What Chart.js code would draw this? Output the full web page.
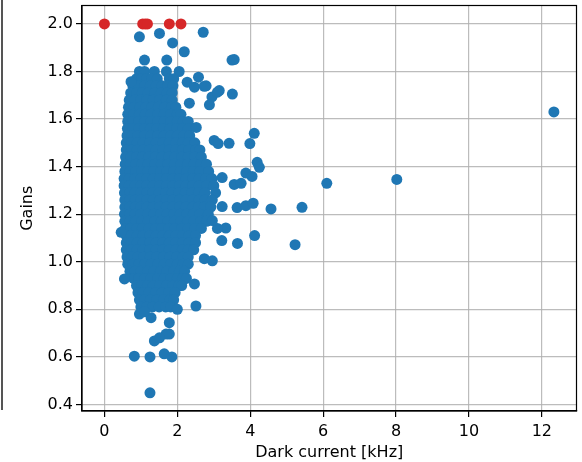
<!DOCTYPE html>
<html>
<head>
<meta charset="utf-8">
<script src="https://cdn.jsdelivr.net/npm/chart.js@4.4.0/dist/chart.umd.min.js"></script>
<style>
  html, body { margin: 0; padding: 0; background: #fff; }
  #wrap { position: relative; width: 582px; height: 462px; }
  #edge { position: absolute; left: 1px; top: 0; width: 2px; height: 410px; background: #555; }
</style>
</head>
<body>
<div id="wrap">
  <canvas id="chart" width="582" height="462"></canvas>
  <div id="edge"></div>
</div>
<script>
// ticks
const xTicks = [0, 2, 4, 6, 8, 10, 12];
const yTicks = [0.4, 0.6, 0.8, 1.0, 1.2, 1.4, 1.6, 1.8, 2.0];

// dense core of the cloud, read row by row: [gain, [dark current values]]
const coreRows = [
  [1.80, [0.96, 1.1, 1.37, 1.7, 2.05]],
  [1.77, [0.88, 1.02, 1.16, 1.3, 1.45, 1.78, 1.9]],
  [1.74, [0.78, 0.94, 1.1, 1.26, 1.42, 1.58, 1.74, 1.88]],
  [1.71, [0.72, 0.88, 1.04, 1.2, 1.38, 1.56, 1.72, 1.86]],
  [1.68, [0.68, 0.84, 1.0, 1.16, 1.34, 1.52, 1.7, 1.86]],
  [1.65, [0.66, 0.82, 0.98, 1.14, 1.3, 1.48, 1.66, 1.84, 1.96]],
  [1.62, [0.64, 0.8, 0.96, 1.12, 1.28, 1.46, 1.64, 1.82, 2.0, 2.1]],
  [1.59, [0.64, 0.78, 0.94, 1.1, 1.28, 1.46, 1.64, 1.82, 2.0, 2.16, 2.3]],
  [1.56, [0.63, 0.78, 0.94, 1.1, 1.26, 1.44, 1.62, 1.8, 1.98, 2.15, 2.3]],
  [1.53, [0.62, 0.76, 0.92, 1.1, 1.28, 1.46, 1.64, 1.82, 2.0, 2.18, 2.34]],
  [1.50, [0.6, 0.74, 0.9, 1.06, 1.24, 1.42, 1.6, 1.78, 1.96, 2.14, 2.3, 2.48]],
  [1.47, [0.6, 0.74, 0.9, 1.06, 1.24, 1.42, 1.6, 1.78, 1.96, 2.14, 2.32, 2.5, 2.62]],
  [1.44, [0.58, 0.72, 0.88, 1.04, 1.22, 1.4, 1.58, 1.76, 1.94, 2.12, 2.3, 2.48, 2.66]],
  [1.41, [0.57, 0.71, 0.86, 1.02, 1.2, 1.38, 1.56, 1.74, 1.92, 2.1, 2.28, 2.46, 2.64, 2.8]],
  [1.38, [0.56, 0.7, 0.86, 1.02, 1.18, 1.36, 1.54, 1.72, 1.9, 2.08, 2.26, 2.44, 2.62, 2.86]],
  [1.35, [0.54, 0.68, 0.84, 1.0, 1.16, 1.34, 1.52, 1.7, 1.88, 2.06, 2.24, 2.42, 2.6, 2.78, 2.95]],
  [1.32, [0.54, 0.68, 0.84, 1.0, 1.16, 1.34, 1.52, 1.7, 1.88, 2.06, 2.24, 2.42, 2.6, 2.8, 3.0]],
  [1.29, [0.55, 0.69, 0.84, 1.0, 1.16, 1.32, 1.5, 1.68, 1.86, 2.04, 2.22, 2.4, 2.58, 2.76, 3.05]],
  [1.26, [0.56, 0.7, 0.85, 1.0, 1.16, 1.34, 1.52, 1.7, 1.88, 2.06, 2.24, 2.42, 2.6, 2.76, 2.96]],
  [1.23, [0.56, 0.7, 0.85, 1.0, 1.16, 1.34, 1.52, 1.7, 1.88, 2.06, 2.24, 2.42, 2.58, 2.74, 2.92]],
  [1.20, [0.55, 0.69, 0.84, 1.0, 1.18, 1.36, 1.54, 1.72, 1.9, 2.08, 2.26, 2.44, 2.62, 2.85]],
  [1.17, [0.56, 0.7, 0.85, 1.02, 1.2, 1.38, 1.56, 1.74, 1.92, 2.1, 2.28, 2.46, 2.64, 2.8]],
  [1.14, [0.58, 0.72, 0.88, 1.04, 1.22, 1.4, 1.58, 1.76, 1.94, 2.12, 2.3, 2.48, 2.66]],
  [1.11, [0.6, 0.74, 0.9, 1.06, 1.24, 1.42, 1.6, 1.78, 1.96, 2.14, 2.32, 2.5]],
  [1.08, [0.6, 0.74, 0.9, 1.06, 1.24, 1.42, 1.6, 1.78, 1.96, 2.14, 2.32, 2.5]],
  [1.05, [0.6, 0.74, 0.9, 1.06, 1.24, 1.42, 1.6, 1.78, 1.96, 2.14, 2.3, 2.45]],
  [1.02, [0.62, 0.76, 0.92, 1.08, 1.26, 1.44, 1.62, 1.8, 1.98, 2.16, 2.3]],
  [0.99, [0.64, 0.78, 0.94, 1.1, 1.28, 1.46, 1.64, 1.82, 2.0, 2.16, 2.3]],
  [0.96, [0.7, 0.84, 1.0, 1.18, 1.36, 1.54, 1.72, 1.9, 2.06, 2.2]],
  [0.93, [0.8, 0.94, 1.1, 1.28, 1.46, 1.64, 1.82, 2.0, 2.14, 2.25]],
  [0.90, [0.88, 1.02, 1.18, 1.34, 1.52, 1.7, 1.88, 2.04, 2.12]],
  [0.87, [0.92, 1.06, 1.22, 1.4, 1.58, 1.76, 1.94]],
  [0.84, [0.96, 1.1, 1.26, 1.44, 1.62, 1.8, 1.9]],
  [0.81, [1.0, 1.16, 1.32, 1.5, 1.68, 1.82]]
];

// separate points around the cloud: [dark current, gain]
const outliers = [
  [0.96, 1.946], [1.51, 1.96], [1.87, 1.92], [2.19, 1.883], [2.71, 1.965],
  [3.5, 1.848], [3.56, 1.85], [1.1, 1.848], [1.71, 1.848], [0.73, 1.757],
  [2.27, 1.755], [2.58, 1.776], [2.47, 1.734], [2.74, 1.738], [3.15, 1.72],
  [2.95, 1.693], [2.88, 1.66], [3.51, 1.705], [3.1, 1.713], [2.79, 1.74],
  [2.33, 1.667], [2.52, 1.565], [3.01, 1.51], [3.12, 1.497], [3.42, 1.498],
  [4.11, 1.54], [3.99, 1.497], [4.19, 1.418], [4.25, 1.397], [3.88, 1.373],
  [4.05, 1.359], [3.56, 1.325], [3.75, 1.33], [3.23, 1.354], [3.23, 1.232],
  [3.64, 1.228], [3.88, 1.236], [4.08, 1.246], [4.57, 1.222], [5.42, 1.229],
  [3.33, 1.142], [3.22, 1.089], [3.65, 1.077], [4.12, 1.11], [5.23, 1.072],
  [12.33, 1.63], [6.1, 1.33], [8.02, 1.346], [0.46, 1.124], [2.96, 1.004],
  [2.74, 1.013], [2.47, 0.907], [0.55, 0.928], [2.51, 0.814], [0.96, 0.78],
  [1.28, 0.765], [1.78, 0.744], [1.78, 0.696], [1.69, 0.696], [1.37, 0.667],
  [1.51, 0.68], [0.82, 0.603], [1.25, 0.6], [1.64, 0.613], [1.85, 0.6],
  [1.25, 0.449], [2.0, 0.8], [1.1, 0.79], [3.1, 1.14], [2.96, 1.173]
];

// pixels stuck at gain 2.0 (red)
const saturatedDark = [0.0, 1.05, 1.12, 1.18, 1.78, 2.1];
const saturatedGains = [2.0, 2.0, 2.0, 2.0, 2.0, 2.0];

const bluePoints = [];
coreRows.forEach(([g, xs]) => xs.forEach(x => bluePoints.push({ x, y: g })));
outliers.forEach(([x, y]) => bluePoints.push({ x, y }));

const redPoints = saturatedDark.map((x, i) => ({ x, y: saturatedGains[i] }));

const font = { family: 'DejaVu Sans', size: 16 };

const frame = {
  id: 'frame',
  afterDraw(chart) {
    const { ctx, chartArea: a } = chart;
    ctx.save();
    ctx.strokeStyle = '#000';
    ctx.lineWidth = 1.2;
    ctx.strokeRect(a.left, a.top, a.right - a.left, a.bottom - a.top);
    ctx.restore();
  }
};

new Chart(document.getElementById('chart'), {
  type: 'scatter',
  data: {
    datasets: [
      {
        label: 'saturated',
        data: redPoints,
        backgroundColor: '#d62728',
        borderWidth: 0,
        pointRadius: 5.5,
        pointHoverRadius: 5.5
      },
      {
        label: 'gains',
        data: bluePoints,
        backgroundColor: '#1f77b4',
        borderWidth: 0,
        pointRadius: 5.5,
        pointHoverRadius: 5.5
      }
    ]
  },
  options: {
    responsive: false,
    animation: false,
    events: [],
    layout: { padding: { left: 0, top: 5, right: 2, bottom: 0 } },
    plugins: { legend: { display: false }, tooltip: { enabled: false } },
    scales: {
      x: {
        type: 'linear',
        z: 1,
        min: -0.615,
        max: 12.95,
        afterBuildTicks: s => { s.ticks = xTicks.map(v => ({ value: v })); },
        afterFit: s => { s.height = 51; s.paddingLeft = 0; s.paddingRight = 0; },
        ticks: { font, color: '#000', padding: 5, maxRotation: 0, callback: v => String(v) },
        grid: { color: 'rgba(176,176,176,0.85)', lineWidth: 1.2, tickLength: 6, tickColor: '#000', tickWidth: 1.2 },
        border: { display: true, color: '#000', width: 1.2 },
        title: { display: true, text: 'Dark current [kHz]', font, color: '#000', padding: { top: 0, bottom: 0 } }
      },
      y: {
        type: 'linear',
        z: 1,
        min: 0.3725,
        max: 2.0775,
        afterBuildTicks: s => { s.ticks = yTicks.map(v => ({ value: v })); },
        afterFit: s => { s.width = 82; s.paddingTop = 0; s.paddingBottom = 0; },
        ticks: { font, color: '#000', padding: 3, callback: v => v.toFixed(1) },
        grid: { color: 'rgba(176,176,176,0.85)', lineWidth: 1.2, tickLength: 6, tickColor: '#000', tickWidth: 1.2 },
        border: { display: true, color: '#000', width: 1.2 },
        title: { display: true, text: 'Gains', font, color: '#000', padding: { top: 18, bottom: 0 } }
      }
    }
  },
  plugins: [frame]
});
</script>
</body>
</html>
